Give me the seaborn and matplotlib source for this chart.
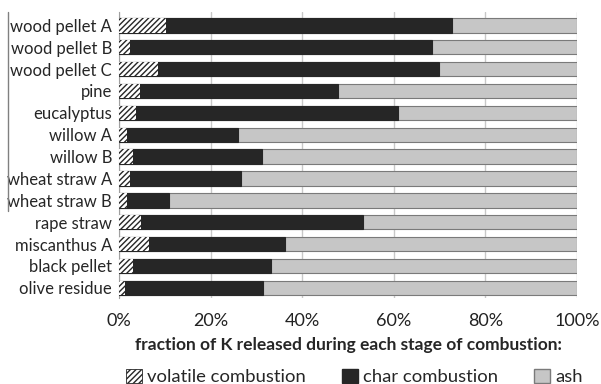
import numpy as np
import pandas as pd
import seaborn as sns
import matplotlib.pyplot as plt
from matplotlib.patches import Patch
from matplotlib.lines import Line2D
from matplotlib.ticker import PercentFormatter

samples = ['wood pellet A', 'wood pellet B', 'wood pellet C', 'pine', 'eucalyptus',
           'willow A', 'willow B', 'wheat straw A', 'wheat straw B', 'rape straw',
           'miscanthus A', 'black pellet', 'olive residue']
volatile = [10.3, 2.4, 8.5, 4.6, 3.7, 1.7, 3.0, 2.4, 1.7, 4.8, 6.6, 3.1, 1.3]
char = [62.4, 65.9, 61.4, 43.3, 57.2, 24.3, 28.2, 24.2, 9.3, 48.5, 29.6, 30.1, 30.2]
ash = [100 - v - c for v, c in zip(volatile, char)]

df = pd.DataFrame({'sample': samples, 'volatile': volatile, 'char': char, 'ash': ash})
df['vc'] = df['volatile'] + df['char']
df['total'] = df['vc'] + df['ash']

sns.set_style('white')
plt.rcParams['font.family'] = ['Lato', 'DejaVu Sans']
plt.rcParams['hatch.linewidth'] = 1.0

fig, ax = plt.subplots(figsize=(6.01, 3.84), dpi=100)
fig.subplots_adjust(left=0.198, right=0.96, top=0.968, bottom=0.225)

w = 0.66
sns.barplot(data=df, y='sample', x='total', color='#c6c6c6', orient='h', width=w,
            edgecolor='#7a7a7a', linewidth=0.8, ax=ax, zorder=2)
sns.barplot(data=df, y='sample', x='vc', color='#262626', orient='h', width=w,
            edgecolor='#262626', linewidth=0.8, ax=ax, zorder=3)
n = len(ax.patches)
sns.barplot(data=df, y='sample', x='volatile', color='white', orient='h', width=w,
            edgecolor='#262626', linewidth=0.0, ax=ax, zorder=4)
for p in ax.patches[n:]:
    p.set_hatch('//////')
    p.set_edgecolor('#262626')

ax.set_xlim(0, 100)
ax.set_ylim(len(samples) - 0.55, -0.6)
ax.xaxis.set_major_formatter(PercentFormatter(decimals=0))
ax.set_xticks(np.arange(0, 101, 20))
ax.grid(axis='x', color='#c8c8c8', linewidth=1.0, zorder=0)
ax.set_axisbelow(True)
for s in ['top', 'right', 'bottom']:
    ax.spines[s].set_visible(False)
ax.spines['left'].set_color('#a0a0a0')
ax.tick_params(axis='y', length=0, labelsize=12, pad=5)
ax.tick_params(axis='x', length=0, labelsize=13, pad=11, colors='#222222')
ax.set_ylabel('')
ax.set_xlabel('fraction of K released during each stage of combustion:',
              fontsize=12.5, fontweight='bold', labelpad=6)

handles = [Patch(facecolor='white', edgecolor='#262626', hatch='//////', linewidth=0.6),
           Patch(facecolor='#262626', edgecolor='#262626'),
           Patch(facecolor='#c6c6c6', edgecolor='#7a7a7a')]
fig.legend(handles, ['volatile combustion', 'char combustion', 'ash'],
           loc='lower center', bbox_to_anchor=(0.59, -0.047), ncol=3, frameon=False,
           fontsize=13.3, handlelength=0.85, handleheight=0.85, handletextpad=0.3,
           columnspacing=1.95)

fig.add_artist(Line2D([0.014, 0.014], [0.97, 0.45], color='#808080', linewidth=1.0))

fig.savefig('out.png', dpi=100)
